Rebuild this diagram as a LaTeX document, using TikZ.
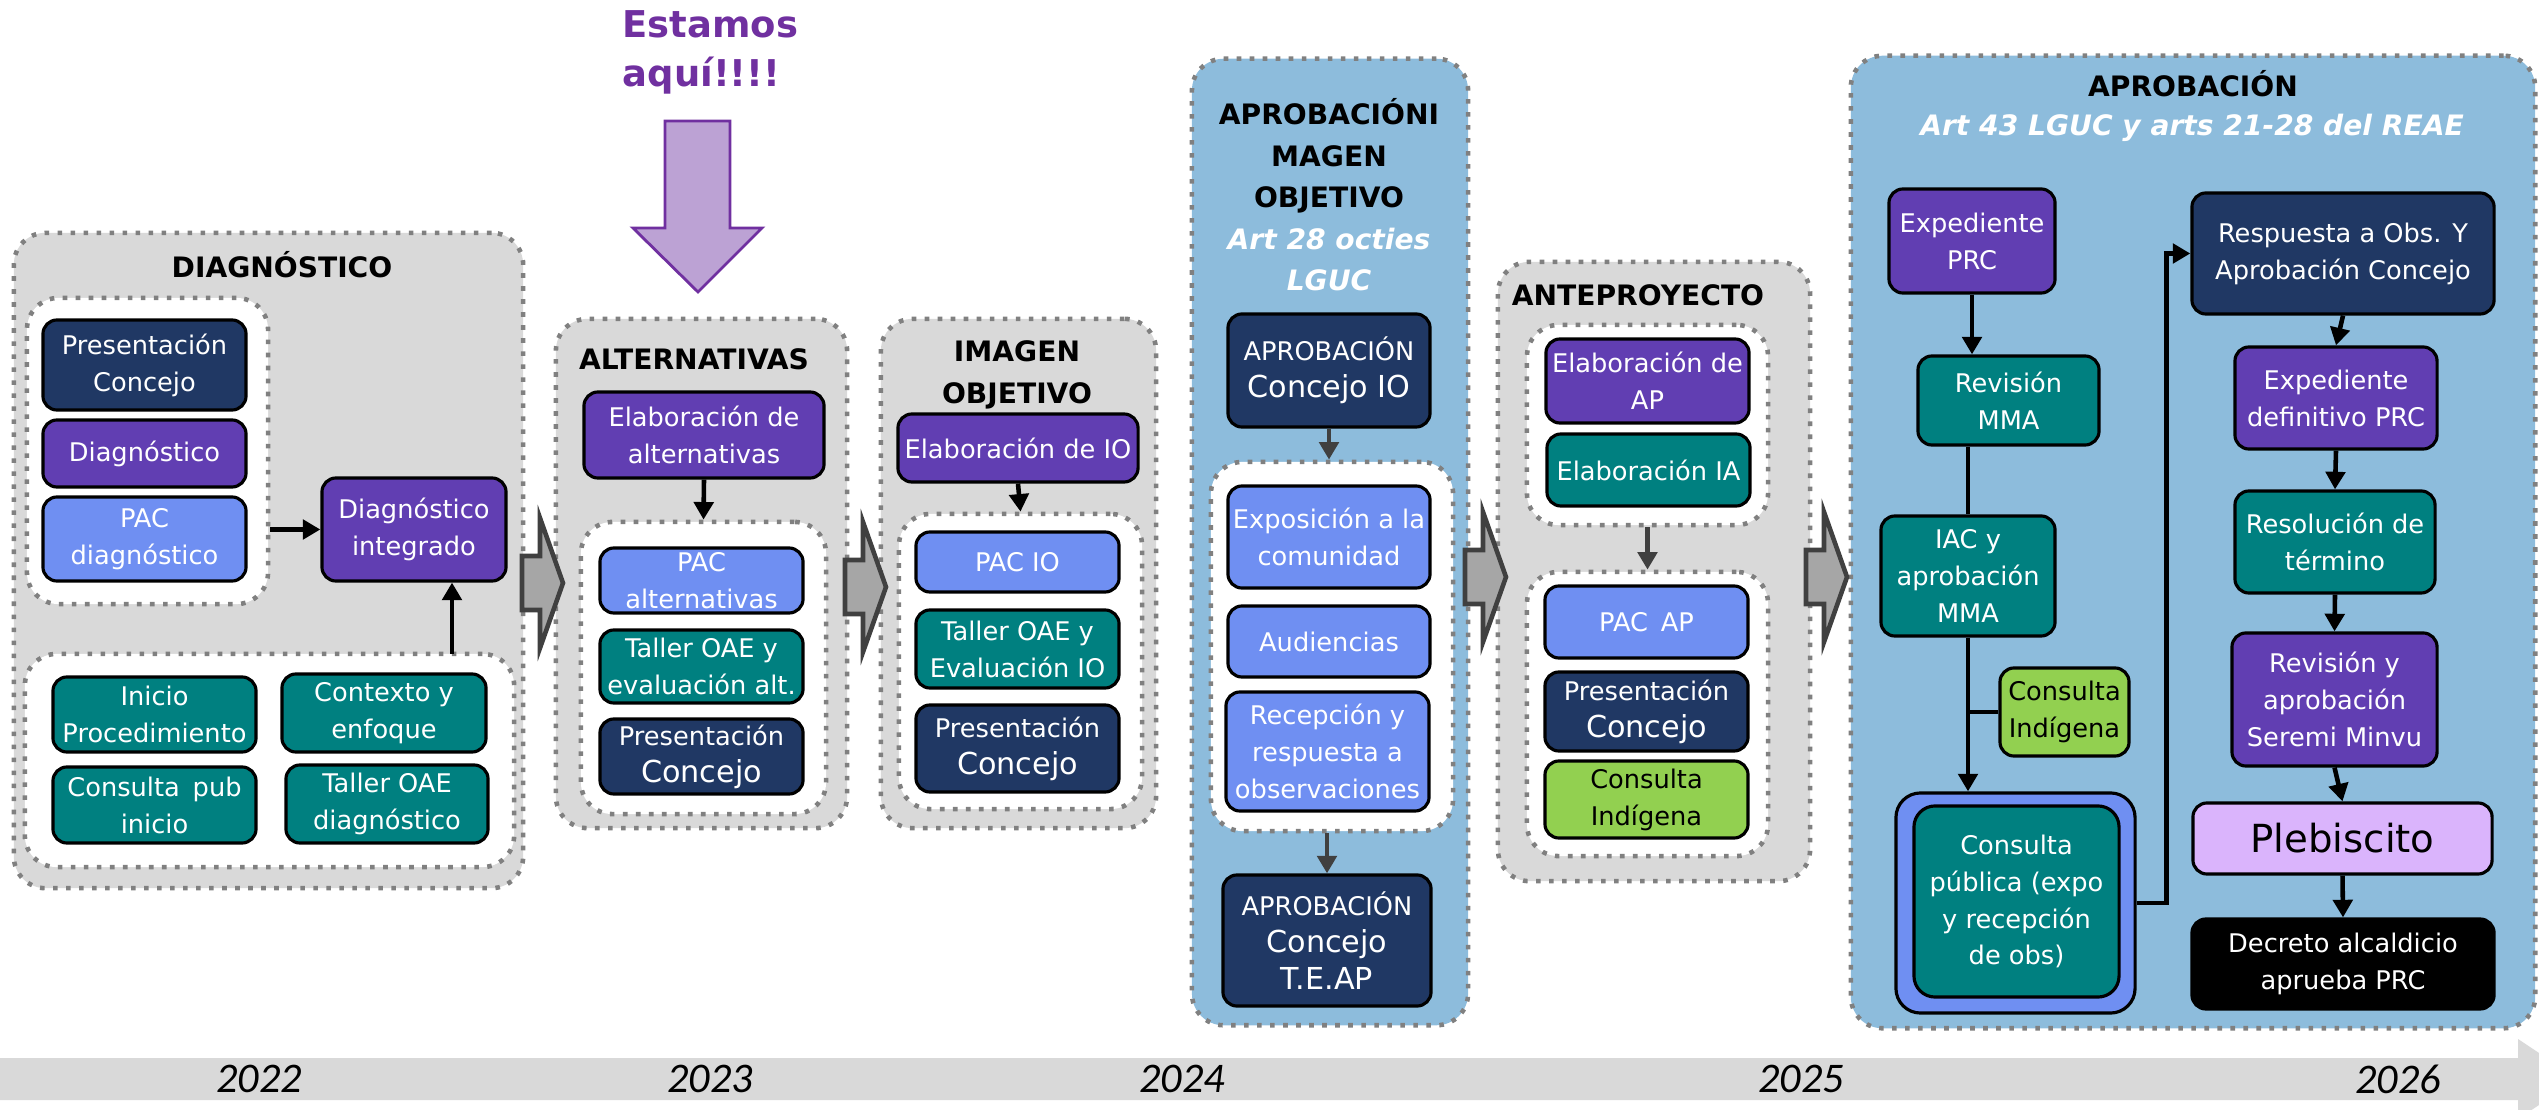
\documentclass[tikz,border=0pt]{standalone}
\usepackage{fontspec}
\setmainfont{DejaVu Sans}
\newfontfamily\yearfont{Carlito}
\usetikzlibrary{arrows.meta}

\definecolor{navy}{RGB}{32,56,100}
\definecolor{violeta}{RGB}{97,62,178}
\definecolor{celeste}{RGB}{111,143,242}
\definecolor{verdeazul}{RGB}{0,128,128}
\definecolor{verdeclaro}{RGB}{146,208,80}
\definecolor{lila}{RGB}{218,180,252}
\definecolor{fondogris}{RGB}{217,217,217}
\definecolor{fondoazul}{RGB}{141,188,220}
\definecolor{puntos}{RGB}{128,128,128}
\definecolor{flechagris}{RGB}{166,166,166}
\definecolor{bordegris}{RGB}{64,64,64}
\definecolor{morado}{RGB}{112,48,160}
\definecolor{lavanda}{RGB}{188,162,212}

\def\grande#1{{\fontsize{8.6}{11}\selectfont #1}}
\def\subt#1{\textcolor{white}{\itshape #1}}
% flecha gruesa entre etapas: (x trasera, y centro)
\def\bloque(#1,#2){\draw[bigarrow] (#1,#2) ++(0,-27) -- ++(18,0) -- ++(0,-38) -- ++(23,65) -- ++(-23,65) -- ++(0,-38) -- ++(-18,0) -- cycle;}

\tikzset{
  etapa/.style={draw=puntos, line width=1.3pt, dash pattern=on 1.3pt off 2.4pt, rounded corners=9pt, inner sep=0pt},
  etapagris/.style={etapa, fill=fondogris},
  etapaazul/.style={etapa, fill=fondoazul},
  marco/.style={etapa, fill=white},
  tam/.style 2 args={minimum width=#1cm, minimum height=#2cm},
  caja/.style={draw=black, line width=0.9pt, rounded corners=4pt, align=center, inner sep=1pt, text=white, font=\fontsize{7.3}{10.5}\selectfont},
  titulo/.style={align=center, inner sep=0pt, font=\bfseries\fontsize{8}{11.8}\selectfont},
  anio/.style={font=\yearfont\itshape\fontsize{12}{14}\selectfont},
  flecha/.style={-{Triangle[length=5pt,width=5.5pt]}, line width=1.3pt},
  flechagr/.style={flecha, draw=bordegris},
  linea/.style={line width=1.3pt},
  bigarrow/.style={fill=flechagris, draw=bordegris, line width=1.3pt, line join=miter}
}

\begin{document}
\begin{tikzpicture}[x=0.01cm, y=-0.01cm]
\useasboundingbox (0,0) rectangle (2539,1110);
\clip (0,0) rectangle (2539,1110);

% linea de tiempo
\fill[fondogris] (0,1058) -- (2518,1058) -- (2518,1039) -- (2578,1079) -- (2518,1119) -- (2518,1100) -- (0,1100) -- cycle;
\foreach \x/\a in {259/2022, 710/2023, 1182/2024, 1801/2025, 2398/2026}{
  \node[anio] (a\a) at (\x,1079) {\a};
}

% etapas
\node[etapagris, tam={5.09}{6.55}] (diagstage) at (268.5,560.5) {};
\node[etapagris, tam={2.91}{5.09}] (altstage) at (701.5,573.5) {};
\node[etapagris, tam={2.75}{5.09}] (iostage) at (1018.5,573.5) {};
\node[etapaazul, tam={2.76}{9.66}] (aprobiostage) at (1330,542) {};
\node[etapagris, tam={3.12}{6.19}] (antestage) at (1654,571.5) {};
\node[etapaazul, tam={6.84}{9.72}] (aprobstage) at (2193,542) {};

\node[marco, tam={2.41}{3.06}] (marcodiag) at (147.5,451) {};
\node[marco, tam={4.89}{2.13}] (marcoinicio) at (269.5,760.5) {};
\node[marco, tam={2.45}{2.92}] (marcoalt) at (703.5,668) {};
\node[marco, tam={2.43}{2.95}] (marcoio) at (1020.5,661.5) {};
\node[marco, tam={2.42}{3.69}] (marcoexpo) at (1332,646.5) {};
\node[marco, tam={2.41}{2.00}] (marcoelab) at (1647.5,425) {};
\node[marco, tam={2.41}{2.84}] (marcopac) at (1647.5,714) {};

% titulos
\node[titulo] (tdiag) at (282,265) {DIAGNÓSTICO};
\node[titulo] (talt) at (694,359) {ALTERNATIVAS};
\node[titulo] (tio) at (1017,375) {IMAGEN\\OBJETIVO};
\node[titulo] (taprobio) at (1329,195) {APROBACIÓNI\\MAGEN\\OBJETIVO\\\subt{Art 28 octies}\\\subt{LGUC}};
\node[titulo] (tante) at (1638,295) {ANTEPROYECTO};
\node[titulo] (taprob) at (2193,84) {APROBACIÓN};
\node[titulo] (tart) at (2192,128) {\subt{Art 43 LGUC y arts 21-28 del REAE}};

% diagnostico
\node[caja, fill=navy, tam={2.03}{0.90}] (presdiag) at (144.5,365) {Presentación\\Concejo};
\node[caja, fill=violeta, tam={2.03}{0.67}] (diag) at (144.5,453.5) {Diagnóstico};
\node[caja, fill=celeste, tam={2.03}{0.84}] (pacdiag) at (144.5,539) {PAC\\diagnóstico};
\node[caja, fill=violeta, tam={1.84}{1.03}] (diagint) at (414,529.5) {Diagnóstico\\integrado};
\node[caja, fill=verdeazul, tam={2.03}{0.75}] (inicio) at (154.5,714.5) {Inicio\\Procedimiento};
\node[caja, fill=verdeazul, tam={2.04}{0.78}] (contexto) at (384,713) {Contexto y\\enfoque};
\node[caja, fill=verdeazul, tam={2.03}{0.76}] (cpinicio) at (154.5,805) {Consulta\enspace pub\\inicio};
\node[caja, fill=verdeazul, tam={2.02}{0.78}] (tallerdiag) at (387,804) {Taller OAE\\diagnóstico};

% alternativas
\node[caja, fill=violeta, tam={2.40}{0.86}] (elabalt) at (704,435) {Elaboración de\\alternativas};
\node[caja, fill=celeste, tam={2.03}{0.65}] (pacalt) at (701.5,580.5) {PAC\\alternativas};
\node[caja, fill=verdeazul, tam={2.03}{0.73}] (talleralt) at (701.5,666.5) {Taller OAE y\\evaluación alt.};
\node[caja, fill=navy, tam={2.03}{0.75}] (presalt) at (701.5,756.5) {Presentación\\\grande{Concejo}};

% imagen objetivo
\node[caja, fill=violeta, tam={2.40}{0.68}] (elabio) at (1018,448) {Elaboración de IO};
\node[caja, fill=celeste, tam={2.03}{0.60}] (pacio) at (1017.5,562) {PAC IO};
\node[caja, fill=verdeazul, tam={2.03}{0.78}] (tallerio) at (1017.5,649) {Taller OAE y\\Evaluación IO};
\node[caja, fill=navy, tam={2.03}{0.87}] (presio) at (1017.5,748.5) {Presentación\\\grande{Concejo}};

% aprobacion imagen objetivo
\node[caja, fill=navy, tam={2.02}{1.13}] (aprobio) at (1329,370.5) {APROBACIÓN\\\grande{Concejo IO}};
\node[caja, fill=celeste, tam={2.02}{1.02}] (expo) at (1329,537) {Exposición a la\\comunidad};
\node[caja, fill=celeste, tam={2.02}{0.71}] (audi) at (1329,641.5) {Audiencias};
\node[caja, fill=celeste, tam={2.03}{1.19}] (recep) at (1327.5,751.5) {Recepción y\\respuesta a\\observaciones};
\node[caja, fill=navy, tam={2.08}{1.31}] (aprobteap) at (1327,940.5) {APROBACIÓN\\\grande{Concejo}\\\grande{T.E.AP}};

% anteproyecto
\node[caja, fill=violeta, tam={2.03}{0.84}] (elabap) at (1647.5,381) {Elaboración de\\AP};
\node[caja, fill=verdeazul, tam={2.03}{0.72}] (elabia) at (1648.5,470) {Elaboración IA};
\node[caja, fill=celeste, tam={2.03}{0.72}] (pacap) at (1646.5,622) {PAC\enspace AP};
\node[caja, fill=navy, tam={2.03}{0.79}] (presap) at (1646.5,711.5) {Presentación\\\grande{Concejo}};
\node[caja, fill=verdeclaro, text=black, tam={2.03}{0.77}] (indigap) at (1646.5,799.5) {Consulta\\Indígena};

% aprobacion
\node[caja, fill=violeta, tam={1.66}{1.04}] (exped) at (1972,241) {Expediente\\PRC};
\node[caja, fill=verdeazul, tam={1.81}{0.89}] (revmma) at (2008.5,400.5) {Revisión\\MMA};
\node[caja, fill=verdeazul, tam={1.74}{1.20}] (iac) at (1968,576) {IAC y\\aprobación\\MMA};
\node[caja, fill=verdeclaro, text=black, tam={1.29}{0.88}] (indigpub) at (2064.5,712) {Consulta\\Indígena};
\node[caja, fill=celeste, rounded corners=7pt, tam={2.39}{2.20}] (cpmarco) at (2015.5,903) {};
\node[caja, fill=verdeazul, rounded corners=6pt, tam={2.05}{1.91}] (cpub) at (2016.5,901.5) {Consulta\\pública (expo\\y recepción\\de obs)};
\node[caja, fill=navy, tam={3.02}{1.21}] (resp) at (2343,253.5) {Respuesta a Obs. Y\\Aprobación Concejo};
\node[caja, fill=violeta, tam={2.02}{1.02}] (expdef) at (2336,398) {Expediente\\definitivo PRC};
\node[caja, fill=verdeazul, tam={2.00}{1.02}] (resol) at (2335,542) {Resolución de\\término};
\node[caja, fill=violeta, tam={2.05}{1.33}] (revser) at (2334.5,699.5) {Revisión y\\aprobación\\Seremi Minvu};
\node[caja, fill=lila, text=black, tam={2.99}{0.71}, font=\fontsize{11}{13}\selectfont] (pleb) at (2342.5,838.5) {Plebiscito};
\node[caja, fill=black, tam={3.02}{0.90}] (decreto) at (2343,964) {Decreto alcaldicio\\aprueba PRC};

% conectores
\draw[flecha] (diagint.west -| marcodiag.east) -- (diagint.west);
\coordinate (subida) at (452,654);
\draw[flecha] (subida) -- (subida |- diagint.south);
\draw[flecha] (elabalt.south) -- (marcoalt.north);
\draw[flecha] (elabio.south) -- (marcoio.north);
\draw[flechagr] (aprobio.south) -- (aprobio.south |- marcoexpo.north);
\draw[flechagr] (marcoexpo.south -| aprobteap.north) -- (aprobteap.north);
\draw[flechagr] (marcoelab.south) -- (marcopac.north);

\draw[flecha] (exped.south) -- (exped.south |- revmma.north);
\draw[linea] (iac.north |- revmma.south) -- (iac.north);
\draw[flecha] (iac.south) -- (iac.south |- cpmarco.north);
\draw[linea] (indigpub.west) -- (indigpub.west -| iac.south);
\draw[flecha] (cpmarco.east) -- ++(30,0) |- (resp.west);
\foreach \a/\b in {resp/expdef, expdef/resol, resol/revser, revser/pleb, pleb/decreto}{
  \draw[flecha] (\a.south) -- (\b.north);
}

% flechas entre etapas
\bloque(522,583)
\bloque(845,587)
\bloque(1465,577)
\bloque(1806,577)

% estamos aqui
\filldraw[fill=lavanda, draw=morado, line width=0.8pt] (665,121) -- (730,121) -- (730,228) -- (762,228) -- (698,292) -- (633,228) -- (665,228) -- cycle;
\node[anchor=north west, inner sep=0pt, align=left, text=morado, font=\bfseries\fontsize{10.5}{14}\selectfont] (aqui) at (622,10) {Estamos\\aquí!!!!};
\end{tikzpicture}
\end{document}
